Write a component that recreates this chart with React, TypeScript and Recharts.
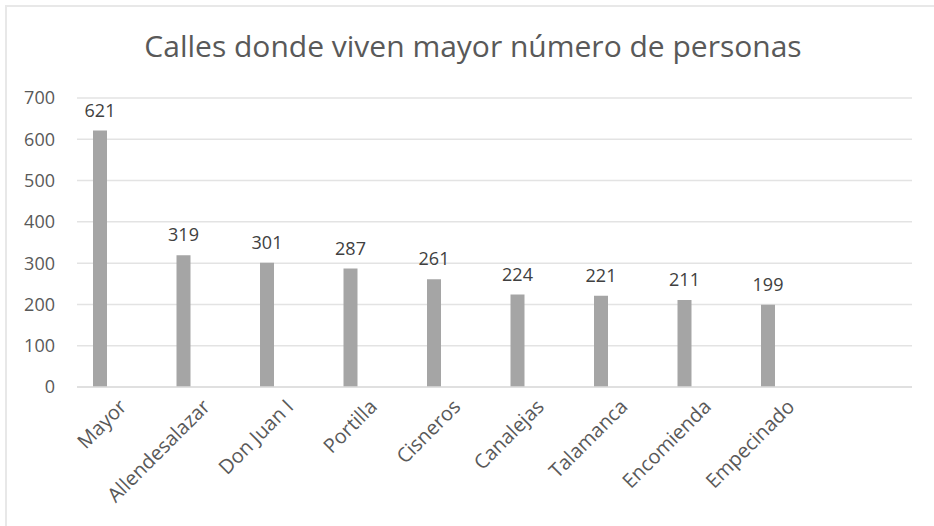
import { BarChart, Bar, XAxis, YAxis, CartesianGrid, LabelList } from 'recharts'

const calles = [
  'Mayor',
  'Allendesalazar',
  'Don Juan I',
  'Portilla',
  'Cisneros',
  'Canalejas',
  'Talamanca',
  'Encomienda',
  'Empecinado',
  '',
]
const personas = [621, 319, 301, 287, 261, 224, 221, 211, 199, null]
const yTicks = [0, 100, 200, 300, 400, 500, 600, 700]

const data = calles.map((calle, i) => ({ calle, personas: personas[i] }))

const GRIS_TEXTO = '#595959'

const RotatedTick = ({ x, y, payload }: any) => {
  const tx = x + 9
  const ty = y + 13
  return (
    <text
      x={tx}
      y={ty}
      transform={`rotate(-45, ${tx}, ${ty})`}
      textAnchor="end"
      fill={GRIS_TEXTO}
      fontSize={20}
    >
      {payload.value}
    </text>
  )
}

export default function App() {
  return (
    <div
      style={{
        position: 'absolute',
        left: 0,
        top: 0,
        width: 934,
        height: 526,
        overflow: 'hidden',
        background: '#fff',
        fontFamily: '"Open Sans", sans-serif',
      }}
    >
      <div
        style={{
          position: 'absolute',
          left: 5,
          top: 5,
          width: 1000,
          height: 600,
          borderLeft: '2px solid #e8e8e8',
          borderTop: '2px solid #e8e8e8',
        }}
      />
      <div
        style={{
          position: 'absolute',
          left: 6,
          top: 25,
          width: 934,
          textAlign: 'center',
          fontSize: 30,
          color: GRIS_TEXTO,
        }}
      >
        Calles donde viven mayor número de personas
      </div>
      <div style={{ position: 'absolute', left: 0, top: 0 }}>
        <BarChart
          width={934}
          height={526}
          data={data}
          margin={{ top: 98, right: 22, bottom: 0, left: 0 }}
          barSize={14}
          barGap={23}
        >
          <CartesianGrid vertical={false} stroke="#e3e3e3" strokeWidth={1.5} />
          <XAxis
            dataKey="calle"
            height={139}
            interval={0}
            tickLine={false}
            axisLine={{ stroke: '#dcdcdc', strokeWidth: 1.5 }}
            tick={<RotatedTick />}
          />
          <YAxis
            width={77}
            domain={[0, 700]}
            ticks={yTicks}
            tickLine={false}
            axisLine={false}
            tickMargin={16}
            tick={{ fill: GRIS_TEXTO, fontSize: 18 }}
          />
          <Bar dataKey="personas" fill="#a5a5a5" isAnimationActive={false}>
            <LabelList dataKey="personas" position="top" offset={14} fill="#404040" fontSize={18} />
          </Bar>
          <Bar dataKey="vacio" fill="transparent" isAnimationActive={false} />
        </BarChart>
      </div>
    </div>
  )
}
